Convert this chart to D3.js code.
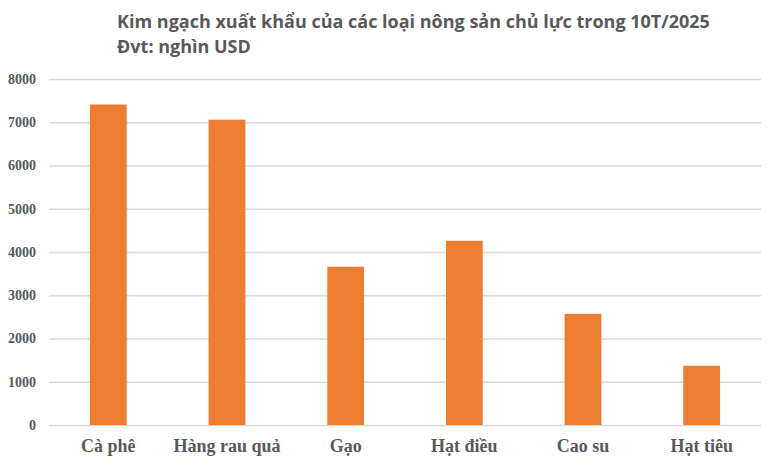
<!DOCTYPE html>
<html>
<head>
<meta charset="utf-8">
<script src="https://cdn.jsdelivr.net/npm/d3@7"></script>
<style>
  body { margin: 0; background: #fff; }
  svg { display: block; }
</style>
</head>
<body>
<div id="chart"></div>
<script>
const categories = ["Cà phê", "Hàng rau quả", "Gạo", "Hạt điều", "Cao su", "Hạt tiêu"]
const values = [7410, 7060, 3660, 4260, 2570, 1370]
const yTicks = [0, 1000, 2000, 3000, 4000, 5000, 6000, 7000, 8000]
const titleLines = ["Kim ngạch xuất khẩu của các loại nông sản chủ lực trong 10T/2025", "Đvt: nghìn USD"]

const W = 775, H = 466
const MARGIN = {top: 79, right: 14, bottom: 41, left: 49}
const WIDTH = W - MARGIN.left - MARGIN.right
const HEIGHT = H - MARGIN.top - MARGIN.bottom
const TEXT = "#595959"
const SERIF = "'Liberation Serif', 'Times New Roman', serif"

const svg = d3.select("#chart").append("svg")
  .attr("width", W)
  .attr("height", H)

// title
svg.selectAll("text.title")
  .data(titleLines)
  .enter().append("text")
  .attr("class", "title")
  .attr("x", 117)
  .attr("y", (d, i) => 28 + i * 25)
  .style("font-family", "'Open Sans', sans-serif")
  .style("font-weight", "bold")
  .style("font-size", "18px")
  .style("fill", TEXT)
  .text(d => d)

const g = svg.append("g")
  .attr("transform", "translate(" + MARGIN.left + "," + MARGIN.top + ")")

const xScale = d3.scaleBand()
  .domain(categories)
  .range([0, WIDTH])
  .paddingInner(0.69)
  .paddingOuter(0.345)

const yScale = d3.scaleLinear()
  .domain([0, 8000])
  .range([HEIGHT, 0])

// gridlines + y labels
const yAxis = g.append("g")
  .attr("font-family", SERIF)
  .call(d3.axisLeft(yScale).tickValues(yTicks).tickSize(-WIDTH).tickPadding(13).tickFormat(d => d))
yAxis.attr("font-family", SERIF).attr("font-size", 14).attr("font-weight", "bold")
yAxis.select(".domain").remove()
yAxis.selectAll(".tick line").attr("stroke", "#d9d9d9").attr("stroke-width", 1.3)
yAxis.selectAll(".tick text")
  .style("font-family", SERIF)
  .style("font-weight", "bold")
  .style("font-size", "14px")
  .style("fill", TEXT)

g.selectAll("rect")
  .data(values)
  .enter()
  .append("rect")
  .attr("x", (d, i) => xScale(categories[i]))
  .attr("y", d => yScale(d))
  .attr("width", xScale.bandwidth())
  .attr("height", d => HEIGHT - yScale(d))
  .style("fill", "#ed7d31")

// x labels
const xAxis = g.append("g")
  .attr("transform", "translate(0," + HEIGHT + ")")
  .call(d3.axisBottom(xScale).tickSize(0).tickPadding(14))
xAxis.attr("font-family", SERIF)
xAxis.select(".domain").remove()
xAxis.selectAll(".tick text")
  .style("font-family", SERIF)
  .style("font-weight", "bold")
  .style("font-size", "18px")
  .style("fill", TEXT)
</script>
</body>
</html>
